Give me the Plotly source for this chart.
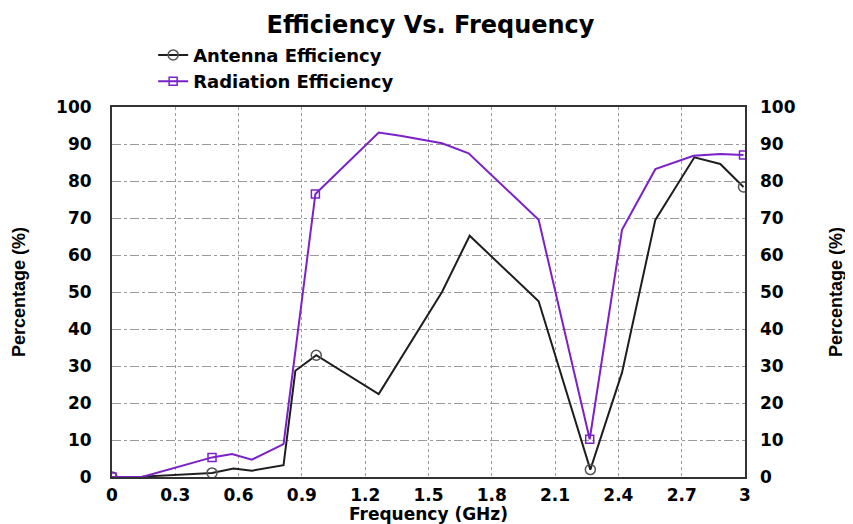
import plotly.graph_objects as go

# Data
rad_freq = [0.0, 0.142, 0.474, 0.569, 0.663, 0.813, 0.964, 1.264, 1.366, 1.564, 1.69, 2.022, 2.264, 2.417, 2.575, 2.756, 2.883, 2.993]
rad_eff = [0.0, 0.0, 5.3, 6.2, 4.7, 8.9, 76.5, 93.1, 92.2, 90.2, 87.5, 69.5, 10.2, 66.8, 83.2, 86.8, 87.3, 87.0]
rad_marker_idx = [0, 2, 6, 12, 17]

ant_freq = [0.0, 0.142, 0.474, 0.576, 0.663, 0.813, 0.869, 0.968, 1.264, 1.564, 1.695, 2.022, 2.267, 2.417, 2.575, 2.76, 2.883, 2.993]
ant_eff = [0.0, 0.1, 1.1, 2.3, 1.7, 3.2, 28.7, 32.9, 22.4, 50.0, 65.2, 47.5, 2.0, 28.2, 69.5, 86.4, 84.6, 78.4]
ant_marker_idx = [0, 2, 7, 12, 17]

x_ticks = [0, 0.3, 0.6, 0.9, 1.2, 1.5, 1.8, 2.1, 2.4, 2.7, 3]
x_tick_text = ["0", "0.3", "0.6", "0.9", "1.2", "1.5", "1.8", "2.1", "2.4", "2.7", "3"]
y_ticks = [0, 10, 20, 30, 40, 50, 60, 70, 80, 90, 100]

ANT_COLOR = "#1e1e1e"
RAD_COLOR = "#7a22c8"
BOLD = "DejaVu Sans, Verdana, sans-serif"
NARROW = "Liberation Sans, Arial, sans-serif"

fig = go.Figure()

# Antenna efficiency
fig.add_trace(go.Scatter(x=ant_freq, y=ant_eff, mode="lines", line=dict(color=ANT_COLOR, width=2),
                         showlegend=False, hoverinfo="skip"))
fig.add_trace(go.Scatter(x=[ant_freq[i] for i in ant_marker_idx], y=[ant_eff[i] for i in ant_marker_idx],
                         mode="markers", marker=dict(symbol="circle-open", size=10, color="#555555", line=dict(width=1.5)),
                         showlegend=False, yaxis="y2"))
# Radiation efficiency
fig.add_trace(go.Scatter(x=rad_freq, y=rad_eff, mode="lines", line=dict(color=RAD_COLOR, width=2),
                         showlegend=False, hoverinfo="skip"))
fig.add_trace(go.Scatter(x=[rad_freq[i] for i in rad_marker_idx], y=[rad_eff[i] for i in rad_marker_idx],
                         mode="markers", marker=dict(symbol="square-open", size=8, color=RAD_COLOR, line=dict(width=1.5)),
                         showlegend=False, yaxis="y2"))

# Legend entries
fig.add_trace(go.Scatter(x=[None], y=[None], mode="lines+markers", name="<b>Antenna Efficiency</b>",
                         line=dict(color=ANT_COLOR, width=2),
                         marker=dict(symbol="circle-open", size=10, color="#555555", line=dict(width=1.5))))
fig.add_trace(go.Scatter(x=[None], y=[None], mode="lines+markers", name="<b>Radiation Efficiency</b>",
                         line=dict(color=RAD_COLOR, width=2),
                         marker=dict(symbol="square-open", size=8, color=RAD_COLOR, line=dict(width=1.5))))

axis_font = dict(family=BOLD, size=17, color="black")
ytitle_font = dict(family=NARROW, size=18, color="black")

# The page body adds an 8px offset, so the figure is 845x516 with margins shifted accordingly
fig.update_layout(
    width=845, height=516,
    margin=dict(l=104, r=108, t=99, b=47, autoexpand=False),
    paper_bgcolor="white", plot_bgcolor="white",
    title=dict(text="<b>Efficiency Vs. Frequency</b>", x=0.5, xanchor="center", y=0.968, yanchor="middle",
               font=dict(family=BOLD, size=24, color="black")),
    showlegend=True,
    legend=dict(x=0.065, y=1.19, xanchor="left", yanchor="top", bgcolor="rgba(0,0,0,0)",
                font=dict(family=BOLD, size=18, color="black"), tracegroupgap=0),
    xaxis=dict(range=[0, 3], tickvals=x_ticks, ticktext=["<b>%s</b>" % t for t in x_tick_text],
               tickfont=axis_font, showgrid=True, gridcolor="#9a9a9a", gridwidth=1, griddash="dot",
               zeroline=False, showline=True, linecolor="#333333", linewidth=2, mirror=True,
               ticks="", ticklabelstandoff=2, automargin=False,
               title=dict(text="<b>Frequency (GHz)</b>", font=dict(family=BOLD, size=17, color="black"), standoff=0)),
    yaxis=dict(range=[0, 100], tickvals=y_ticks, ticktext=["<b>%d</b>" % t for t in y_ticks],
               tickfont=axis_font, showgrid=True, gridcolor="#9a9a9a", gridwidth=1, griddash="dashdot",
               zeroline=False, showline=True, linecolor="#333333", linewidth=2, mirror=True, ticks="",
               ticklabelstandoff=15, automargin=False,
               title=dict(text="<b>Percentage (%)</b>", font=ytitle_font, standoff=26)),
    yaxis2=dict(range=[0, 100], overlaying="y", side="right", tickvals=y_ticks,
                ticktext=["<b>%d</b>" % t for t in y_ticks], tickfont=axis_font, showgrid=False,
                zeroline=False, ticks="", ticklabelstandoff=14, automargin=False,
                title=dict(text="<b>Percentage (%)</b>", font=ytitle_font, standoff=34)),
)

fig.write_html("out.html")
